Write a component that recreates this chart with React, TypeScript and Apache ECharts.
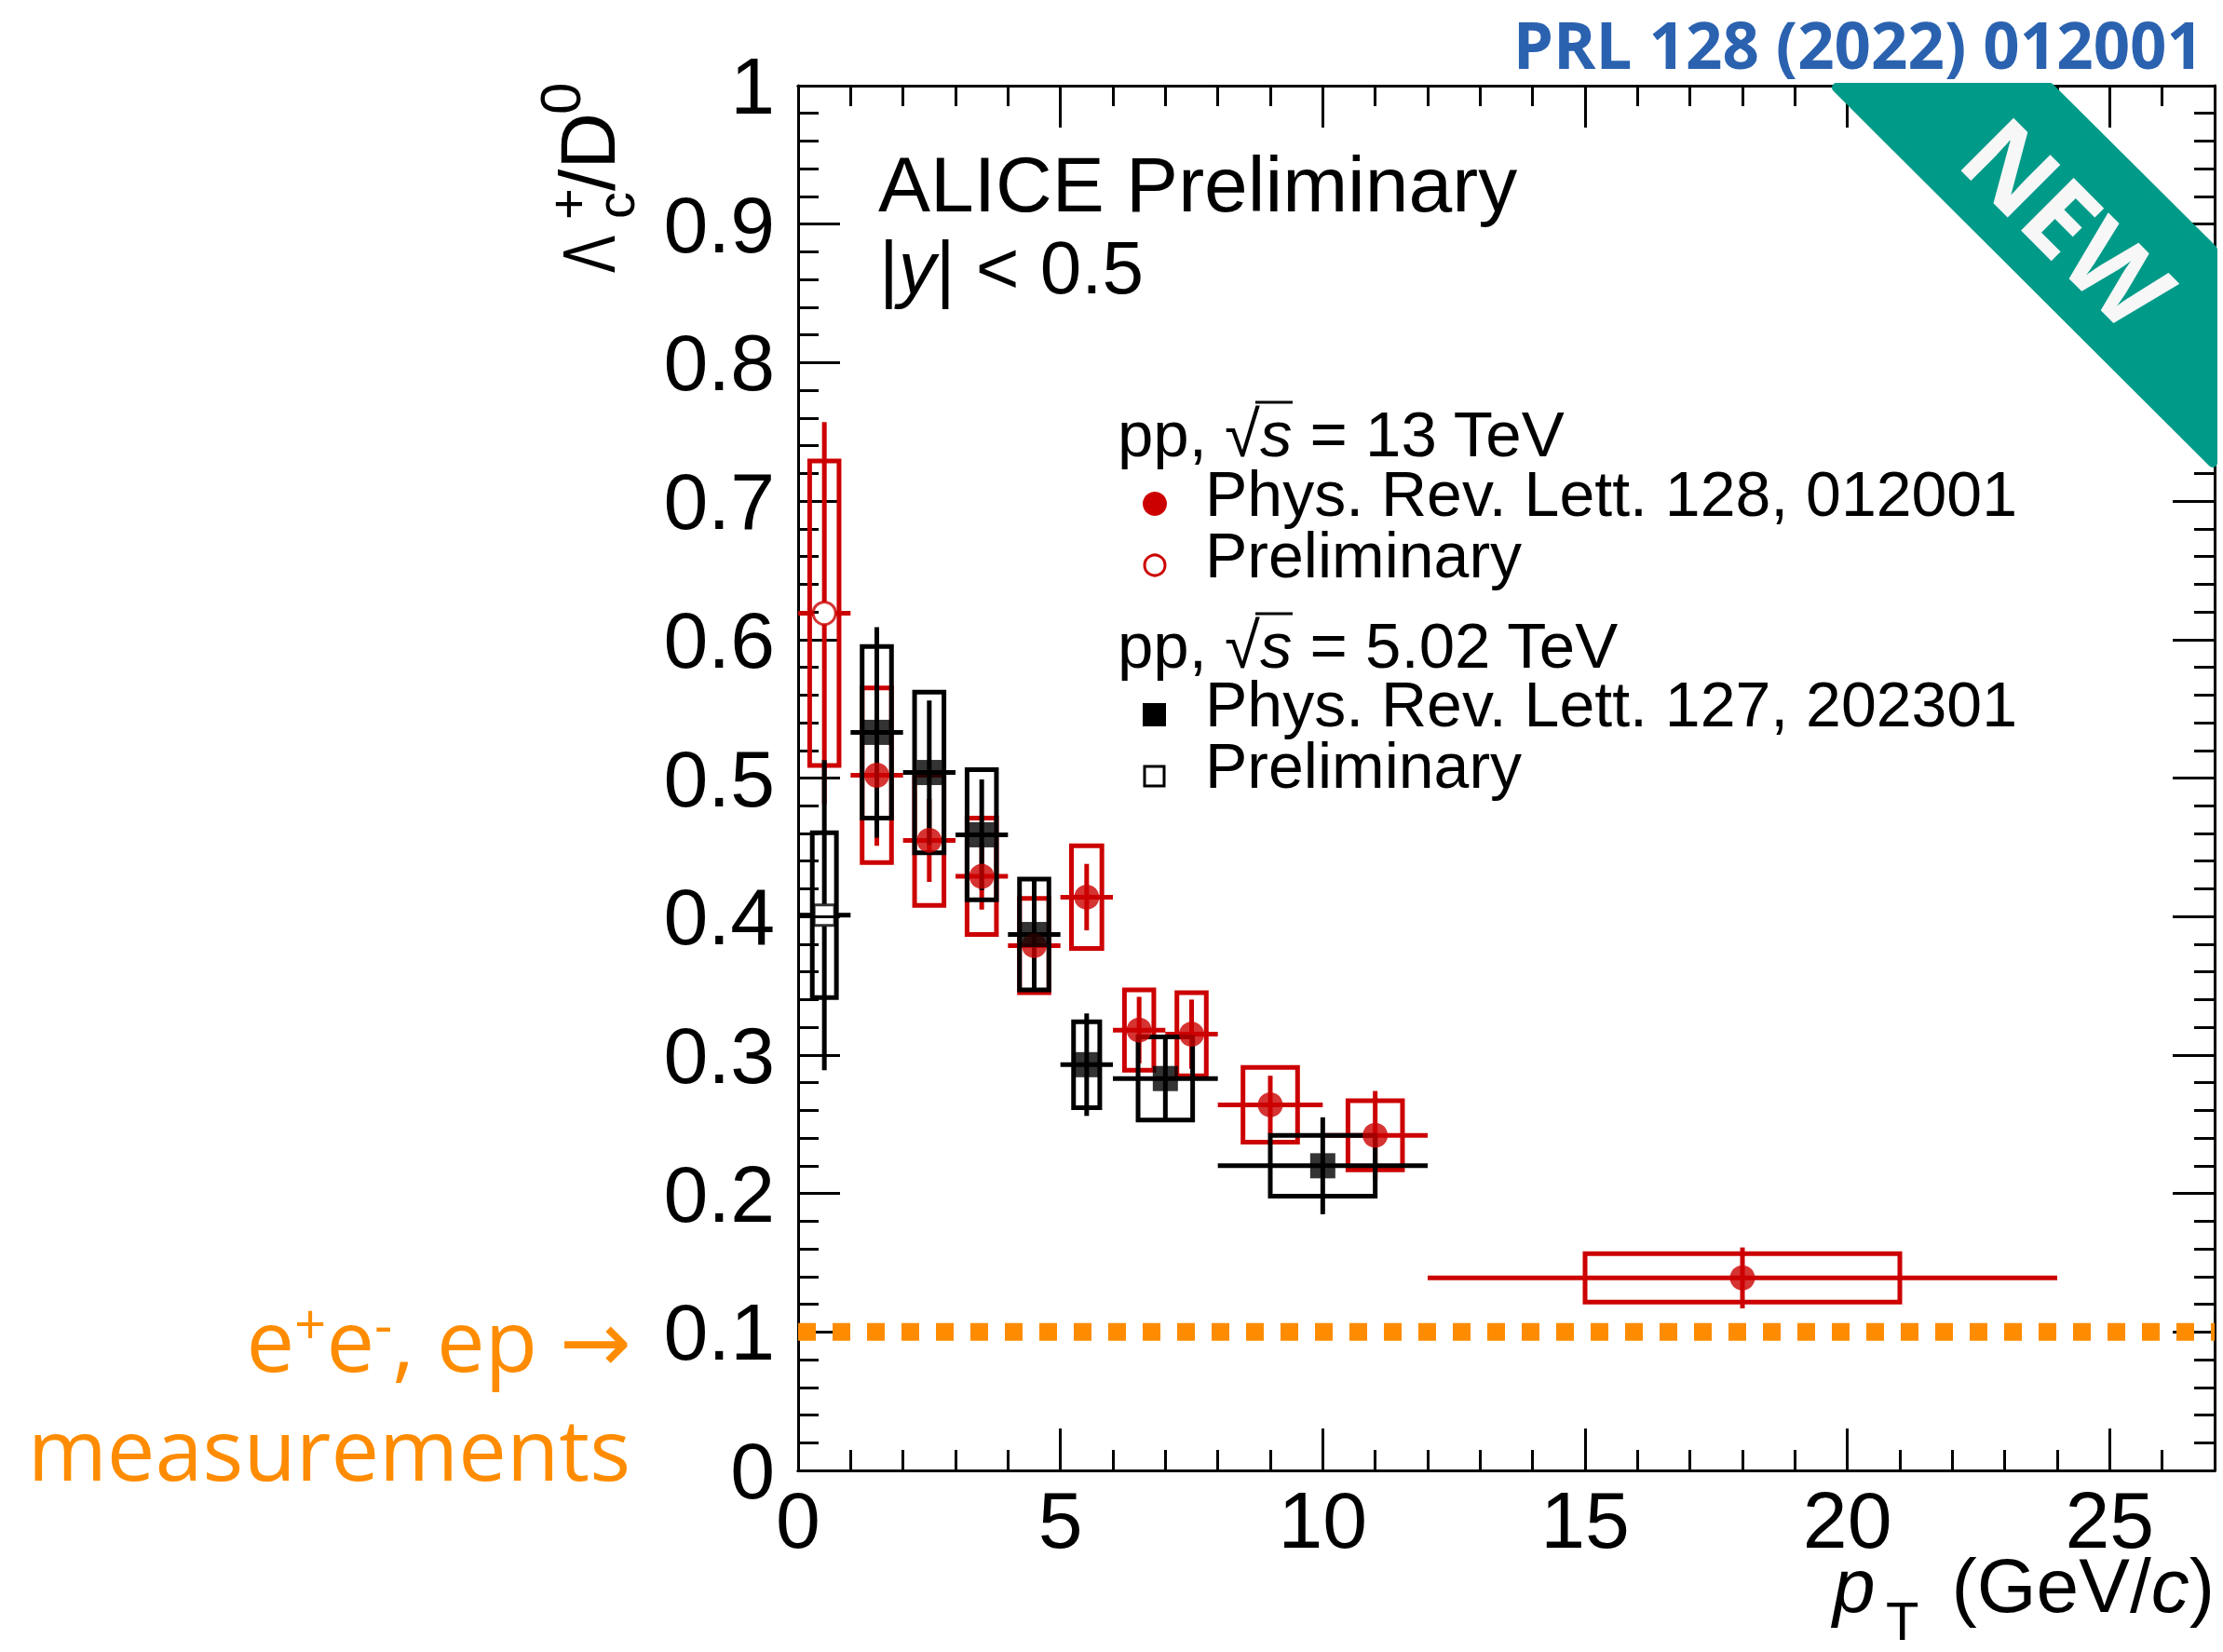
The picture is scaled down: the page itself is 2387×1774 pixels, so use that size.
import React, { useEffect, useRef } from "react";
import * as echarts from "echarts";

// ---------------- data ----------------
// pp 13 TeV, Phys. Rev. Lett. 128, 012001 (filled red circles)
const r13X = [1.5, 2.5, 3.5, 4.5, 5.5, 6.5, 7.5, 9, 11, 18];
const r13XLo = [1, 2, 3, 4, 5, 6, 7, 8, 10, 12];
const r13XHi = [2, 3, 4, 5, 6, 7, 8, 10, 12, 24];
const r13Y = [0.502, 0.455, 0.429, 0.379, 0.414, 0.318, 0.315, 0.264, 0.242, 0.139];
const r13Stat = [0.051, 0.03, 0.024, 0.032, 0.024, 0.024, 0.025, 0.021, 0.032, 0.022];
const r13Sys = [0.063, 0.047, 0.042, 0.034, 0.037, 0.029, 0.03, 0.027, 0.025, 0.0175];
const r13BoxHalf = [0.28, 0.28, 0.28, 0.28, 0.29, 0.28, 0.28, 0.52, 0.52, 3];

// pp 13 TeV, Preliminary (open red circle)
const r13pX = [0.5];
const r13pXLo = [0];
const r13pXHi = [1];
const r13pY = [0.619];
const r13pStat = [0.138];
const r13pSys = [0.11];
const r13pBoxHalf = [0.28];

// pp 5.02 TeV, Phys. Rev. Lett. 127, 202301 (filled black squares)
const b5X = [1.5, 2.5, 3.5, 4.5, 5.5, 7, 10];
const b5XLo = [1, 2, 3, 4, 5, 6, 8];
const b5XHi = [2, 3, 4, 5, 6, 8, 12];
const b5Y = [0.533, 0.504, 0.459, 0.387, 0.293, 0.283, 0.22];
const b5Stat = [0.076, 0.052, 0.04, 0.04, 0.037, 0.031, 0.035];
const b5Sys = [0.062, 0.058, 0.047, 0.04, 0.031, 0.03, 0.022];
const b5BoxHalf = [0.28, 0.28, 0.28, 0.28, 0.25, 0.52, 1.0];

// pp 5.02 TeV, Preliminary (open black square)
const b5pX = [0.5];
const b5pXLo = [0];
const b5pXHi = [1];
const b5pY = [0.401];
const b5pStat = [0.112];
const b5pSys = [0.0595];
const b5pBoxHalf = [0.23];

// e+e-, ep reference level
const eeX = [0, 27];
const eeY = [0.1, 0.1];

// axis ticks / labels
const xTickValues = [0, 5, 10, 15, 20, 25];
const xTickLabels = ["0", "5", "10", "15", "20", "25"];
const yTickLabels = ["0", "0.1", "0.2", "0.3", "0.4", "0.5", "0.6", "0.7", "0.8", "0.9", "1"];

// ---------------- styles ----------------
const RED = "#CC0000";
const BLACK = "#000000";
const ORANGE = "#FF8C00";
const TEAL = "#009A89";
const BLUE = "#2B62B0";
const ROOT_FONT = "'Liberation Sans', Arial, Helvetica, sans-serif";
const SANS_FONT = "'Open Sans', 'Noto Sans', 'DejaVu Sans', sans-serif";

function buildRows(x: number[], y: number[], xLo: number[], xHi: number[], stat: number[], sys: number[], bh: number[]) {
  return x.map((xi, i) => [xi, y[i], xLo[i], xHi[i], y[i] - stat[i], y[i] + stat[i], y[i] - sys[i], y[i] + sys[i], bh[i]]);
}

function makeRender(color: string, gap: number) {
  return (_params: any, api: any) => {
    const x = api.value(0);
    const y = api.value(1);
    const xLo = api.value(2);
    const xHi = api.value(3);
    const sLo = api.value(4);
    const sHi = api.value(5);
    const yLo = api.value(6);
    const yHi = api.value(7);
    const bh = api.value(8);
    const c = api.coord([x, y]);
    const pxLo = api.coord([xLo, y])[0];
    const pxHi = api.coord([xHi, y])[0];
    const pyLo = api.coord([x, sLo])[1];
    const pyHi = api.coord([x, sHi])[1];
    const b0 = api.coord([x - bh, yHi]);
    const b1 = api.coord([x + bh, yLo]);
    const lw = 5;
    const children: any[] = [
      {
        type: "rect",
        shape: { x: b0[0], y: b0[1], width: b1[0] - b0[0], height: b1[1] - b0[1] },
        style: { fill: "none", stroke: color, lineWidth: lw },
      },
    ];
    const segs =
      gap > 0
        ? [
            [pxLo, c[1], c[0] - gap, c[1]],
            [c[0] + gap, c[1], pxHi, c[1]],
            [c[0], pyHi, c[0], c[1] - gap],
            [c[0], c[1] + gap, c[0], pyLo],
          ]
        : [
            [pxLo, c[1], pxHi, c[1]],
            [c[0], pyHi, c[0], pyLo],
          ];
    segs.forEach((s) =>
      children.push({
        type: "line",
        shape: { x1: s[0], y1: s[1], x2: s[2], y2: s[3] },
        style: { stroke: color, lineWidth: lw, lineCap: "butt" },
      })
    );
    return { type: "group", children };
  };
}

function txt(text: string, x: number, baseline: number, size: number, opts: any = {}) {
  const family = opts.family || ROOT_FONT;
  const ratio = opts.ratio != null ? opts.ratio : 0.3465;
  const align = opts.align || "left";
  const style: any = {
    text,
    x: 0,
    y: 0,
    fontSize: size,
    fontFamily: family,
    fontStyle: opts.italic ? "italic" : "normal",
    fontWeight: opts.bold ? "bold" : "normal",
    fill: opts.fill || "#000",
    align,
    textAlign: align,
    verticalAlign: "middle",
    textVerticalAlign: "middle",
  };
  if (opts.rich) style.rich = opts.rich;
  if (opts.lineHeight) style.lineHeight = opts.lineHeight;
  return {
    type: "text",
    z: 50,
    x,
    y: baseline - ratio * size,
    rotation: opts.rotation || 0,
    scaleX: opts.scaleX || 1,
    style,
  };
}

function mkX(pos: string, interval: number, len: number, labels: boolean) {
  return {
    type: "value",
    position: pos,
    min: 0,
    max: 27,
    interval,
    gridIndex: 0,
    axisLine: { show: true, onZero: false, lineStyle: { color: "#000", width: 3 } },
    axisTick: { show: true, inside: true, length: len, lineStyle: { color: "#000", width: 3 } },
    axisLabel: labels
      ? {
          show: true,
          margin: 20,
          fontSize: 86,
          lineHeight: 66,
          fontFamily: ROOT_FONT,
          color: "#000",
          formatter: (v: number) => {
            const i = xTickValues.indexOf(v);
            return i >= 0 ? xTickLabels[i] : "";
          },
        }
      : { show: false },
    splitLine: { show: false },
    minorTick: { show: false },
  };
}

function mkY(pos: string, labels: boolean) {
  return {
    type: "value",
    position: pos,
    min: 0,
    max: 1,
    interval: 0.1,
    gridIndex: 0,
    axisLine: { show: true, onZero: false, lineStyle: { color: "#000", width: 3 } },
    axisTick: { show: true, inside: true, length: 45, lineStyle: { color: "#000", width: 3 } },
    minorTick: { show: true, splitNumber: 5, length: 22, lineStyle: { color: "#000", width: 3 } },
    axisLabel: labels
      ? {
          show: true,
          margin: 25,
          fontSize: 86,
          lineHeight: 70,
          fontFamily: ROOT_FONT,
          color: "#000",
          formatter: (v: number) => yTickLabels[Math.round(v * 10)] ?? "",
        }
      : { show: false },
    splitLine: { show: false },
    minorSplitLine: { show: false },
  };
}

export default function App() {
  const ref = useRef<HTMLDivElement>(null);

  useEffect(() => {
    document.body.style.margin = "0";
    document.body.style.overflow = "hidden";
    if (!ref.current) return;
    const chart = echarts.init(ref.current, undefined, { renderer: "svg" });

    const customSeries = (name: string, rows: number[][], color: string, gap: number) => ({
      name,
      type: "custom",
      xAxisIndex: 0,
      yAxisIndex: 0,
      silent: true,
      encode: { x: 0, y: 1 },
      renderItem: makeRender(color, gap),
      data: rows,
    });
    const scatter = (name: string, x: number[], y: number[], symbol: string, size: number, itemStyle: any) => ({
      name,
      type: "scatter",
      xAxisIndex: 0,
      yAxisIndex: 0,
      silent: true,
      symbol,
      symbolSize: size,
      itemStyle,
      data: x.map((xi, i) => [xi, y[i]]),
    });

    const legendFont = 69;
    const legendRich = {
      n: { fontSize: legendFont, fontFamily: ROOT_FONT, fill: "#000" },
      i: { fontSize: legendFont, fontFamily: ROOT_FONT, fontStyle: "italic", fill: "#000" },
    };
    const sqrtHeader = (baseline: number, rest: string) => [
      txt(`{n|pp, \u221A}{i|s}{n| ${rest}}`, 1200, baseline, legendFont, { rich: legendRich }),
      {
        type: "line",
        z: 50,
        shape: { x1: 1348, y1: baseline - 58, x2: 1388, y2: baseline - 58 },
        style: { stroke: "#000", lineWidth: 3 },
      },
    ];

    const ySub = { fontFamily: ROOT_FONT, fill: "#000", align: "left", verticalAlign: "middle", x: 0, y: 0 };

    const graphics: any[] = [
      // top-right reference
      txt("PRL 128 (2022) 012001", 2366, 74, 69, { family: SANS_FONT, bold: true, fill: BLUE, align: "right", ratio: 0.388, lineHeight: 60 }),
      // NEW ribbon
      {
        type: "polygon",
        z: 60,
        shape: { points: [[1972, 94], [2201, 94], [2376, 268], [2376, 497]] },
        style: { fill: TEAL, stroke: TEAL, lineWidth: 10, lineJoin: "round" },
      },
      {
        type: "text",
        z: 61,
        x: 2222,
        y: 238,
        rotation: -Math.PI / 4,
        style: {
          text: "NEW",
          x: 0,
          y: 0,
          fontSize: 112,
          fontFamily: SANS_FONT,
          fontWeight: "bold",
          fill: "#F7F7F7",
          align: "center",
          textAlign: "center",
          verticalAlign: "middle",
          textVerticalAlign: "middle",
        },
      },
      // ALICE label
      txt("ALICE Preliminary", 943, 227, 84),
      txt("{n||}{i|y}{n|| < 0.5}", 944, 315, 80, {
        rich: {
          n: { fontSize: 80, fontFamily: ROOT_FONT, fill: "#000" },
          i: { fontSize: 80, fontFamily: ROOT_FONT, fontStyle: "italic", fill: "#000" },
        },
      }),
      // legend
      ...sqrtHeader(490, "= 13 TeV"),
      { type: "circle", z: 50, shape: { cx: 1240, cy: 541, r: 13 }, style: { fill: RED } },
      txt("Phys. Rev. Lett. 128, 012001", 1294, 554, 68, { lineHeight: 62 }),
      { type: "circle", z: 50, shape: { cx: 1240, cy: 607, r: 11 }, style: { fill: "#fff", stroke: RED, lineWidth: 3 } },
      txt("Preliminary", 1294, 620, 68, { lineHeight: 62 }),
      ...sqrtHeader(717, "= 5.02 TeV"),
      { type: "rect", z: 50, shape: { x: 1227, y: 755, width: 25, height: 25 }, style: { fill: BLACK } },
      txt("Phys. Rev. Lett. 127, 202301", 1294, 780, 68, { lineHeight: 62 }),
      { type: "rect", z: 50, shape: { x: 1229, y: 823, width: 21, height: 21 }, style: { fill: "#fff", stroke: BLACK, lineWidth: 3 } },
      txt("Preliminary", 1294, 846, 68, { lineHeight: 62 }),
      // y axis title: Λc+/D0
      {
        type: "group",
        z: 50,
        x: 660,
        y: 293,
        rotation: Math.PI / 2,
        children: [
          { type: "text", x: 0, y: -27.7, scaleX: 0.75, style: { ...ySub, text: "\u039B", fontSize: 80, lineHeight: 60 } },
          { type: "text", x: 58, y: 0, style: { ...ySub, text: "c", fontSize: 58, lineHeight: 30 } },
          { type: "text", x: 57, y: -51, style: { ...ySub, text: "+", fontSize: 58, lineHeight: 30 } },
          { type: "text", x: 88, y: -29, style: { ...ySub, text: "/D", fontSize: 84, lineHeight: 60 } },
          { type: "text", x: 170, y: -58.5, style: { ...ySub, text: "0", fontSize: 62, lineHeight: 44 } },
        ],
      },
      // x axis title
      txt("p", 1968, 1731, 82, { italic: true, lineHeight: 62 }),
      txt("T", 2025, 1761, 58, { lineHeight: 40 }),
      txt("{n|(GeV/}{i|c}{n|)}", 2378, 1731, 82, {
        align: "right",
        lineHeight: 62,
        rich: {
          n: { fontSize: 82, fontFamily: ROOT_FONT, fill: "#000", lineHeight: 62 },
          i: { fontSize: 82, fontFamily: ROOT_FONT, fontStyle: "italic", fill: "#000", lineHeight: 62 },
        },
      }),
      // orange annotation
      txt("{o|e}{s|+}{o|e}{s|-}{o|, ep \u2192}", 678, 1473, 92, {
        family: SANS_FONT,
        align: "right",
        ratio: 0.388,
        fill: ORANGE,
        rich: {
          o: { fontSize: 92, fontFamily: SANS_FONT, fill: ORANGE },
          s: { fontSize: 60, fontFamily: SANS_FONT, fill: ORANGE, verticalAlign: "top" },
        },
      }),
      txt("measurements", 677, 1590, 92, { family: SANS_FONT, align: "right", ratio: 0.388, fill: ORANGE }),
    ];

    const option: any = {
      animation: false,
      backgroundColor: "#ffffff",
      grid: { left: 857, top: 92, width: 1521, height: 1487, containLabel: false },
      xAxis: [mkX("bottom", 5, 45, true), mkX("bottom", 1, 22, false), mkX("top", 5, 45, false), mkX("top", 1, 22, false)],
      yAxis: [mkY("left", true), mkY("right", false)],
      series: [
        {
          name: "e+e-, ep",
          type: "line",
          xAxisIndex: 0,
          yAxisIndex: 0,
          silent: true,
          symbol: "none",
          data: eeX.map((x, i) => [x, eeY[i]]),
          lineStyle: { color: ORANGE, width: 19, type: [19, 18], cap: "butt" },
        },
        customSeries("13 TeV PRL sys/stat", buildRows(r13X, r13Y, r13XLo, r13XHi, r13Stat, r13Sys, r13BoxHalf), RED, 0),
        scatter("13 TeV PRL", r13X, r13Y, "circle", 27, { color: RED }),
        customSeries("13 TeV prelim sys/stat", buildRows(r13pX, r13pY, r13pXLo, r13pXHi, r13pStat, r13pSys, r13pBoxHalf), RED, 12),
        scatter("13 TeV prelim", r13pX, r13pY, "circle", 24, { color: "rgba(255,255,255,0)", borderColor: RED, borderWidth: 3 }),
        customSeries("5.02 TeV PRL sys/stat", buildRows(b5X, b5Y, b5XLo, b5XHi, b5Stat, b5Sys, b5BoxHalf), BLACK, 0),
        scatter("5.02 TeV PRL", b5X, b5Y, "rect", 27, { color: BLACK }),
        customSeries("5.02 TeV prelim sys/stat", buildRows(b5pX, b5pY, b5pXLo, b5pXHi, b5pStat, b5pSys, b5pBoxHalf), BLACK, 12),
        scatter("5.02 TeV prelim", b5pX, b5pY, "rect", 22, { color: "rgba(255,255,255,0)", borderColor: BLACK, borderWidth: 3 }),
      ],
      graphic: { elements: graphics },
    };

    chart.setOption(option);
    return () => {
      chart.dispose();
    };
  }, []);

  return <div ref={ref} style={{ width: 2387, height: 1774, background: "#fff" }} />;
}
